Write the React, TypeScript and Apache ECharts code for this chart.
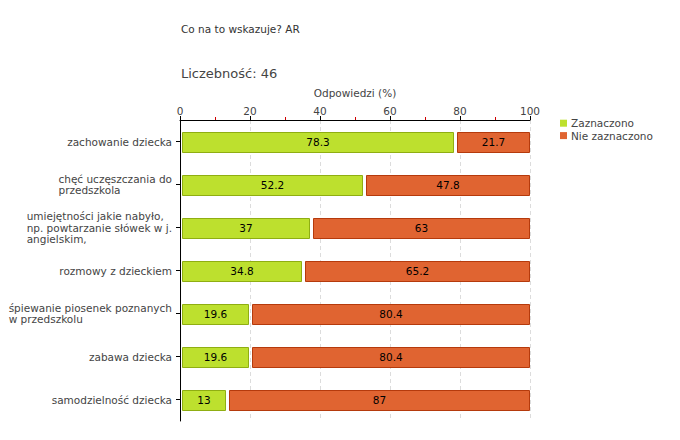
import React, { useEffect, useRef } from "react";
import * as echarts from "echarts";

const categories = [
  "zachowanie dziecka",
  "chęć uczęszczania do\nprzedszkola",
  "umiejętności jakie nabyło,\nnp. powtarzanie słówek w j.\nangielskim,",
  "rozmowy z dzieckiem",
  "śpiewanie piosenek poznanych\nw przedszkolu",
  "zabawa dziecka",
  "samodzielność dziecka",
];
const zaznaczono = [78.3, 52.2, 37, 34.8, 19.6, 19.6, 13];
const nieZaznaczono = [21.7, 47.8, 63, 65.2, 80.4, 80.4, 87];
const xTicks = [0, 20, 40, 60, 80, 100];

const FONT = '"DejaVu Sans", Verdana, sans-serif';

const GREEN = "#bde02e";
const GREEN_BORDER = "#8fae12";
const ORANGE = "#e06431";
const ORANGE_BORDER = "#b53a0c";

function makeRender(fill: string, stroke: string, inset: number) {
  return (params: any, api: any) => {
    const cat = api.value(0);
    const s = api.value(1);
    const e = api.value(2);
    const lbl = api.value(3);
    const p0 = api.coord([s, cat]);
    const p1 = api.coord([e, cat]);
    const h = Math.round(api.size([0, 1])[1] * 0.465);
    const x = Math.round(p0[0]) + inset + 0.5;
    const x1 = Math.round(p1[0]) - 0.5;
    const w = x1 - x;
    const y = Math.round(p0[1] - h / 2) + 0.5;
    return {
      type: "group",
      children: [
        {
          type: "rect",
          shape: { x, y, width: w, height: h },
          style: { fill, stroke, lineWidth: 1 },
        },
        {
          type: "text",
          style: {
            text: String(lbl),
            x: x + w / 2,
            y: p0[1] + 0.5,
            align: "center",
            verticalAlign: "middle",
            fill: "#000",
            font: `10.5px ${FONT}`,
          },
        },
      ],
    };
  };
}

export default function App() {
  const ref = useRef<HTMLDivElement>(null);
  useEffect(() => {
    if (!ref.current) return;
    const chart = echarts.init(ref.current, undefined, { renderer: "svg" });
    const greenData = zaznaczono.map((v, i) => [i, 0, v, v]);
    const orangeData = nieZaznaczono.map((v, i) => [i, zaznaczono[i], zaznaczono[i] + v, v]);
    chart.setOption({
      animation: false,
      backgroundColor: "#fff",
      title: [
        {
          text: "Co na to wskazuje? AR",
          left: 181,
          top: 23,
          padding: 0,
          textStyle: { fontSize: 10.5, fontWeight: "normal", color: "#333", fontFamily: FONT },
        },
        {
          text: "Liczebność: 46",
          left: 181,
          top: 67,
          padding: 0,
          textStyle: { fontSize: 13, fontWeight: "normal", color: "#444", fontFamily: FONT },
        },
      ],
      legend: {
        orient: "vertical",
        left: 560,
        top: 117,
        padding: 0,
        itemWidth: 7,
        itemHeight: 7,
        itemGap: 0,
        icon: "rect",
        data: ["Zaznaczono", "Nie zaznaczono"],
        textStyle: { fontSize: 10.5, color: "#444", fontFamily: FONT, padding: [0, 0, 0, -1], lineHeight: 12.4 },
      },
      grid: { left: 180, right: 150, top: 120, bottom: 19, containLabel: false },
      xAxis: {
        type: "value",
        position: "top",
        min: xTicks[0],
        max: xTicks[xTicks.length - 1],
        interval: 20,
        name: "Odpowiedzi (%)",
        nameLocation: "middle",
        nameGap: 22,
        nameTextStyle: { fontSize: 10.5, color: "#444", fontFamily: FONT },
        axisLine: { show: true, lineStyle: { color: "#000", width: 1 } },
        axisTick: { show: true, length: 4, lineStyle: { color: "#000" } },
        minorTick: { show: true, splitNumber: 2, length: 3, lineStyle: { color: "#d00000" } },
        axisLabel: { fontSize: 10.5, color: "#444", fontFamily: FONT, margin: 4 },
        splitLine: { show: true, lineStyle: { color: "#dcdcdc", type: [4, 3], width: 1 } },
      },
      yAxis: {
        type: "category",
        inverse: true,
        data: categories,
        axisLine: { show: true, lineStyle: { color: "#000", width: 1 } },
        axisTick: { show: true, alignWithLabel: true, length: 4, lineStyle: { color: "#000" } },
        axisLabel: {
          margin: 8,
          formatter: (v: string) =>
            v
              .split("\n")
              .map((l) => `{a|${l}}`)
              .join("\n"),
          rich: {
            a: { fontSize: 10.5, color: "#444", fontFamily: FONT, align: "left", lineHeight: 11.5 },
          },
        },
        splitLine: { show: false },
      },
      series: [
        {
          name: "Zaznaczono",
          type: "custom",
          itemStyle: { color: GREEN },
          encode: { x: [1, 2], y: 0 },
          renderItem: makeRender(GREEN, GREEN_BORDER, 2),
          data: greenData,
        },
        {
          name: "Nie zaznaczono",
          type: "custom",
          itemStyle: { color: ORANGE },
          encode: { x: [1, 2], y: 0 },
          renderItem: makeRender(ORANGE, ORANGE_BORDER, 3),
          data: orangeData,
        },
      ],
    });
    return () => chart.dispose();
  }, []);
  return (
    <div
      ref={ref}
      style={{ position: "fixed", left: 0, top: 0, width: 680, height: 440 }}
    />
  );
}
